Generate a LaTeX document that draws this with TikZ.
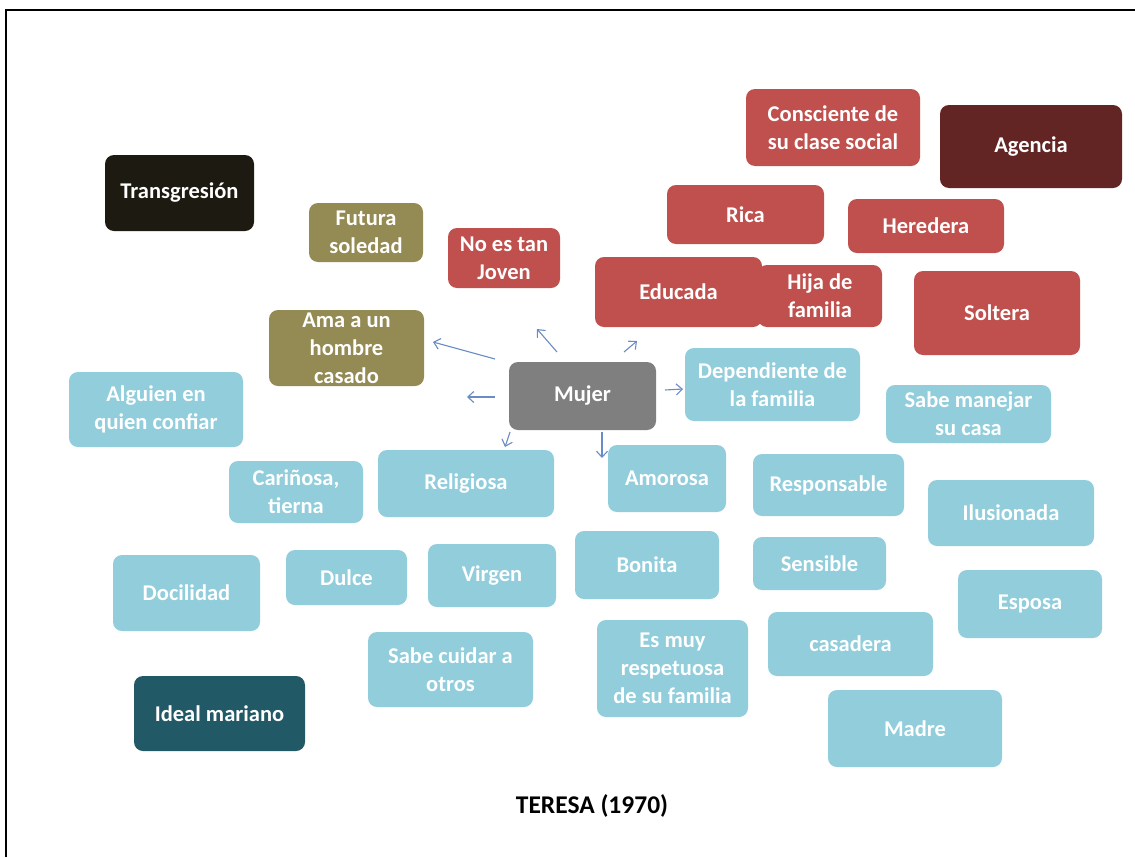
\documentclass[tikz,border=0pt]{standalone}
\usepackage{fontspec}
\setmainfont{Carlito}
\usetikzlibrary{arrows.meta}

\definecolor{cRed}{HTML}{C0504D}
\definecolor{cDarkRed}{HTML}{632523}
\definecolor{cOlive}{HTML}{948A54}
\definecolor{cBlack}{HTML}{1D1B11}
\definecolor{cGray}{HTML}{7F7F7F}
\definecolor{cBlue}{HTML}{92CDDC}
\definecolor{cTeal}{HTML}{215967}
\definecolor{cArrow}{HTML}{6A8CC4}

\tikzset{
  box/.style={rounded corners=9pt, text=white, align=center, inner sep=0pt,
    font=\fontsize{22.5}{28}\selectfont\bfseries},
  sz/.style 2 args={minimum width=#1 pt, minimum height=#2 pt},
  redbox/.style={box, fill=cRed},
  bluebox/.style={box, fill=cBlue},
  olivebox/.style={box, fill=cOlive},
  arr/.style={draw=cArrow, line width=1.1pt, -{Straight Barb[length=6pt,width=11pt]}},
}

\begin{document}
\begin{tikzpicture}[x=1pt, y=-1pt]
\useasboundingbox (0,0) rectangle (1135,857);
\fill[white] (0,0) rectangle (1135,857);

% frame lines along the top and the left
\draw[line width=2.5pt] (6,857) -- (6,10) -- (1135,10);

% central node
\node[box, fill=cGray, sz={147}{68}] (mujer) at (582.5,396) {Mujer};

% category headings
\node[box, fill=cBlack, sz={149}{76}] (trans) at (179.5,193) {Transgresión};
\node[box, fill=cDarkRed, sz={182}{83}] (agencia) at (1031,146.5) {Agencia};
\node[box, fill=cTeal, sz={171}{75}] (ideal) at (219.5,713.5) {Ideal mariano};

% transgression traits
\node[olivebox, sz={114}{59}] (futura) at (366,232.5) {Futura\\soledad};
\node[olivebox, sz={155}{76}] (ama) at (346.5,348) {Ama a un\\hombre\\casado};

% agency traits
\node[redbox, sz={112}{60}] (joven) at (504,258) {No es tan\\Joven};
\node[redbox, sz={174}{77}] (consc) at (833,127.5) {Consciente de\\su clase social};
\node[redbox, sz={157}{59}] (rica) at (745.5,214.5) {Rica};
\node[redbox, sz={156}{54}] (heredera) at (926,226) {Heredera};
\node[redbox, sz={167}{70}] (educada) at (678.5,292) {Educada};
\node[redbox, sz={124}{62}] (hija) at (820,296) {Hija de\\familia};
\node[redbox, sz={166}{84}] (soltera) at (997,313) {Soltera};

% Marian ideal traits
\node[bluebox, sz={174}{75}] (alguien) at (156,409.5) {Alguien en\\quien confiar};
\node[bluebox, sz={175}{73}] (depend) at (772.5,384.5) {Dependiente de\\la familia};
\node[bluebox, sz={165}{58}] (manejar) at (968.5,414) {Sabe manejar\\su casa};
\node[bluebox, sz={134}{62}] (carinosa) at (296,492) {Cariñosa,\\tierna};
\node[bluebox, sz={176}{67}] (religiosa) at (466,483.5) {Religiosa};
\node[bluebox, sz={118}{67}] (amorosa) at (667,478.5) {Amorosa};
\node[bluebox, sz={151}{62}] (responsable) at (828.5,485) {Responsable};
\node[bluebox, sz={166}{66}] (ilusionada) at (1011,513) {Ilusionada};
\node[bluebox, sz={147}{76}] (docilidad) at (186.5,593) {Docilidad};
\node[bluebox, sz={121}{55}] (dulce) at (346.5,577.5) {Dulce};
\node[bluebox, sz={128}{63}] (virgen) at (492,575.5) {Virgen};
\node[bluebox, sz={144}{68}] (bonita) at (647,565) {Bonita};
\node[bluebox, sz={133}{53}] (sensible) at (819.5,563.5) {Sensible};
\node[bluebox, sz={144}{68}] (esposa) at (1030,604) {Esposa};
\node[bluebox, sz={165}{75}] (cuidar) at (450.5,669.5) {Sabe cuidar a\\otros};
\node[bluebox, sz={151}{97}] (respetuosa) at (672.5,668.5) {Es muy\\respetuosa\\de su familia};
\node[bluebox, sz={165}{64}] (casadera) at (850.5,644) {casadera};
\node[bluebox, sz={174}{77}] (madre) at (915,728.5) {Madre};

% caption
\node[font=\fontsize{25.5}{30}\selectfont\bfseries, text=black] (teresa) at (592,806) {TERESA (1970)};

% short arrows leaving the central node
\coordinate (s1) at (495,359); \coordinate (e1) at (433,342);
\coordinate (s2) at (557,352); \coordinate (e2) at (537,329);
\coordinate (s3) at (624,352); \coordinate (e3) at (637,341);
\coordinate (s4) at (665,390); \coordinate (e4) at (683,389);
\coordinate (s5) at (495,397); \coordinate (e5) at (467,397);
\coordinate (s6) at (510,432); \coordinate (e6) at (505,447);
\coordinate (s7) at (602,432); \coordinate (e7) at (602,458);
\foreach \i in {1,...,7} { \draw[arr] (s\i) -- (e\i); }
\end{tikzpicture}
\end{document}
